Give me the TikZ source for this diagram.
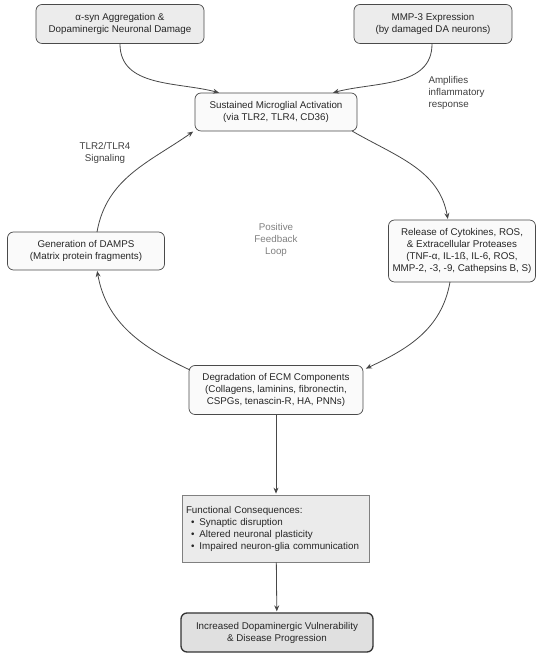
\documentclass[tikz,border=0pt]{standalone}
\usepackage{fontspec}
\setmainfont{Liberation Sans}
\usepackage{tikz}
\usetikzlibrary{arrows}
\usetikzlibrary{arrows.meta}

\definecolor{edgegray}{HTML}{474747}
\definecolor{boxline}{HTML}{4A4A4A}
\definecolor{topfill}{HTML}{ECECEC}
\definecolor{loopfill}{HTML}{FAFAFA}
\definecolor{consfill}{HTML}{EBEBEB}
\definecolor{endfill}{HTML}{E0E0E0}

\begin{document}
\begin{tikzpicture}[x=1pt,y=1pt,->,>={Stealth[length=6pt,width=5pt]},shorten >=1pt,
                    font=\fontsize{9.8}{12}\selectfont,
                    main node/.style={rectangle,rounded corners=6pt,draw=boxline,line width=0.7pt,
                                      fill=loopfill,align=center,inner sep=3pt,text=black!85},
                    top node/.style={main node,fill=topfill},
                    note/.style={align=center,text=black!75}]

        \useasboundingbox (0,0) rectangle (550,661);

        \node[top node,minimum width=168pt,minimum height=39pt] (asyn) at (120,637)
            {α-syn Aggregation \&\\Dopaminergic Neuronal Damage};
        \node[top node,minimum width=158pt,minimum height=39pt] (mmp) at (433,637)
            {MMP-3 Expression\\(by damaged DA neurons)};

        \node[main node,minimum width=162pt,minimum height=38pt] (micro) at (276,549)
            {Sustained Microglial Activation\\(via TLR2, TLR4, CD36)};
        \node[main node,minimum width=147pt,minimum height=62pt] (release) at (462,410)
            {Release of Cytokines, ROS,\\\& Extracellular Proteases\\(TNF-α, IL-1ß, IL-6, ROS,\\MMP-2, -3, -9, Cathepsins B, S)};
        \node[main node,minimum width=157pt,minimum height=38pt] (damps) at (86,410)
            {Generation of DAMPS\\(Matrix protein fragments)};
        \node[main node,minimum width=174pt,minimum height=49pt] (ecm) at (276,271)
            {Degradation of ECM Components\\(Collagens, laminins, fibronectin,\\CSPGs, tenascin-R, HA, PNNs)};

        \node[rectangle,draw=black!50,line width=0.8pt,fill=consfill,align=left,text=black!85,
              minimum width=187pt,minimum height=67pt,text width=180pt,inner sep=3.5pt] (func) at (276,132.5)
            {Functional Consequences:\\
             \hspace*{5pt}\textbullet\hspace{5pt}Synaptic disruption\\
             \hspace*{5pt}\textbullet\hspace{5pt}Altered neuronal plasticity\\
             \hspace*{5pt}\textbullet\hspace{5pt}Impaired neuron-glia communication};

        \node[main node,fill=endfill,draw=black!80,line width=1.3pt,minimum width=192pt,minimum height=39pt] (incr) at (277,28.5)
            {Increased Dopaminergic Vulnerability\\\& Disease Progression};

        % labels
        \node[note,align=left,anchor=west] (amp) at (425,568) {Amplifies\\inflammatory\\response};
        \node[note] (tlr) at (105,508) {TLR2/TLR4\\Signaling};
        \node[note,text=black!50] (loop) at (276,421) {Positive\\Feedback\\Loop};

        \coordinate (asynout) at (120,617);
        \coordinate (mmpout) at (432,617);
        \coordinate (microin1) at (220,568);
        \coordinate (microin2) at (332,568);
        \coordinate (microout) at (352,530);
        \coordinate (microin3) at (194,530);
        \coordinate (relin) at (448,441);
        \coordinate (relout) at (450,379);
        \coordinate (ecmin) at (365,292);
        \coordinate (ecmout) at (190,291);
        \coordinate (dampsin) at (97,391);
        \coordinate (dampsout) at (97,429);

        \begin{scope}[draw=edgegray,line width=0.8pt]
            \path [->] (asynout) edge[out=-90,in=165] (microin1);
            \path [->] (mmpout) edge[out=-90,in=15] (microin2);
            \path [->] (microout) edge[out=-30,in=100] (relin);
            \path [->] (relout) edge[out=-100,in=25] (ecmin);
            \path [->] (ecmout) edge[out=155,in=-80] (dampsin);
            \path [->] (dampsout) edge[out=80,in=-145] (microin3);
            \path [->] (ecm) edge (func);
            \path [->] (func) edge (incr);
        \end{scope}
    \end{tikzpicture}
\end{document}
